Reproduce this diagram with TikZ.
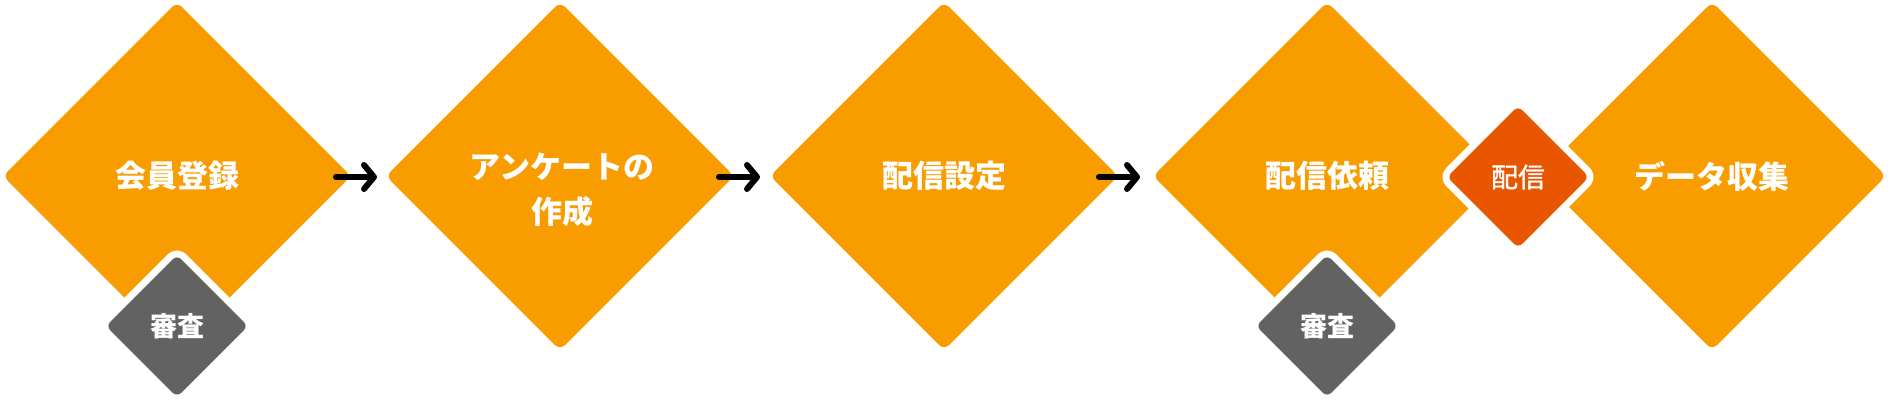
\documentclass[tikz,border=0pt]{standalone}
\usepackage{fontspec}
\newfontfamily\cjk{Noto Sans CJK JP}
\newfontfamily\cjkmed{Noto Sans CJK JP}[FakeBold=1.2]
\usetikzlibrary{shapes.geometric,arrows.meta}
\definecolor{mainorange}{HTML}{F89C00}
\definecolor{redorange}{HTML}{E85600}
\definecolor{reviewgray}{HTML}{626262}
\tikzset{
  bigbox/.style={diamond, aspect=1, fill=mainorange, rounded corners=7pt,
    minimum width=348pt, minimum height=348pt, inner sep=0pt, outer sep=0pt,
    text=white, font=\cjk\bfseries\fontsize{31}{45}\selectfont, align=center},
  smallbox/.style={diamond, aspect=1, rounded corners=6pt,
    minimum width=142pt, minimum height=142pt, inner sep=0pt, outer sep=0pt,
    text=white, preaction={draw=white, fill=white, line width=14pt, line join=round}},
  reviewbox/.style={smallbox, fill=reviewgray, font=\cjk\bfseries\fontsize{27}{32}\selectfont},
  sendbox/.style={smallbox, fill=redorange, font=\cjkmed\fontsize{27}{32}\selectfont},
  flowarrow/.style={draw=black, line width=6pt, line cap=round,
    -{Straight Barb[length=10pt, width=24pt, round]}},
  labeltext/.style={text=white, font=\cjk\bfseries\fontsize{31}{45}\selectfont, align=center}
}
\begin{document}
\begin{tikzpicture}[x=1pt, y=-1pt]
\useasboundingbox (0,0) rectangle (1888,408);
\node[bigbox] (d1) at (177,176) {会員登録};
\node[bigbox] (d2) at (560,176) {};
\node[labeltext] (d2t) at (562,190) {アンケートの\\作成};
\node[bigbox] (d3) at (944,176) {配信設定};
\node[bigbox] (d4) at (1327,176) {配信依頼};
\node[bigbox] (d5) at (1712,176) {データ収集};
\node[reviewbox] (r1) at (177,326) {審査};
\node[reviewbox] (r2) at (1327,326) {審査};
\node[sendbox] (s1) at (1518,177) {配信};
\draw[flowarrow] ([xshift=-15pt,yshift=-1pt]d1.east) -- ([xshift=-9pt,yshift=-1pt]d2.west);
\draw[flowarrow] ([xshift=-15pt,yshift=-1pt]d2.east) -- ([xshift=-10pt,yshift=-1pt]d3.west);
\draw[flowarrow] ([xshift=-19pt,yshift=-1pt]d3.east) -- ([xshift=-13pt,yshift=-1pt]d4.west);
\end{tikzpicture}
\end{document}
